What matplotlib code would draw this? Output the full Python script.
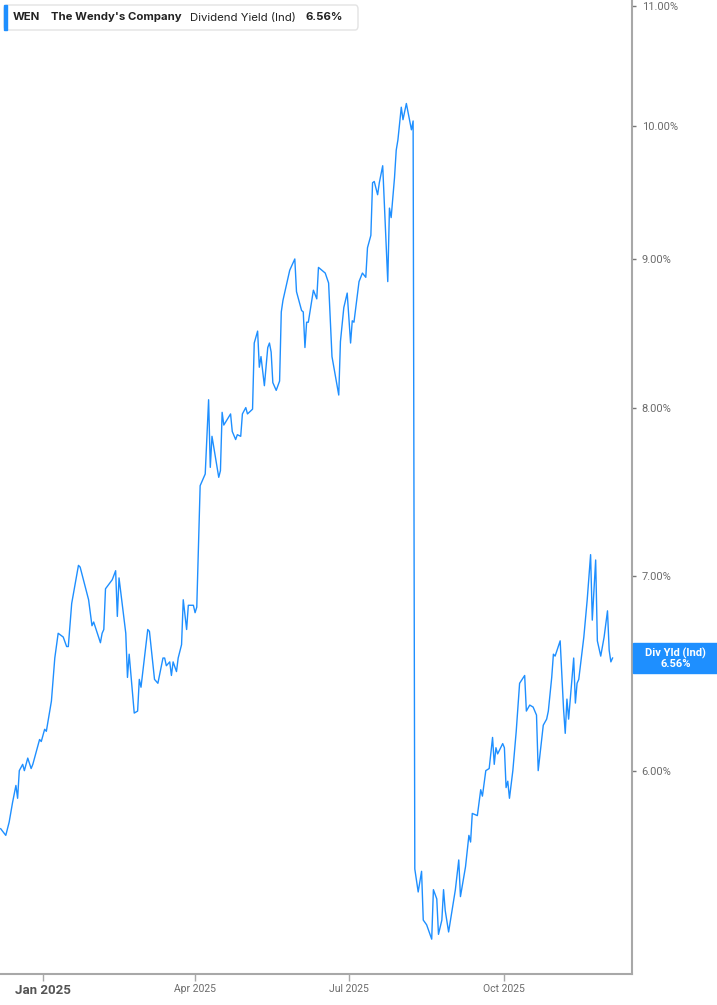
import matplotlib
matplotlib.use("Agg")
import matplotlib.pyplot as plt
import matplotlib.dates as mdates
from matplotlib.patches import FancyBboxPatch, Rectangle
from matplotlib.ticker import FixedLocator, NullLocator
import pandas as pd

# Dividend yield readings (%) taken off the reference chart
dates = [
    "2024-12-07", "2024-12-10", "2024-12-12", "2024-12-14", "2024-12-16", "2024-12-17",
    "2024-12-18", "2024-12-20", "2024-12-21", "2024-12-23", "2024-12-25", "2024-12-26",
    "2024-12-30", "2024-12-31", "2025-01-02", "2025-01-03", "2025-01-06", "2025-01-08",
    "2025-01-10", "2025-01-13", "2025-01-15", "2025-01-16", "2025-01-18", "2025-01-22",
    "2025-01-23", "2025-01-28", "2025-01-30", "2025-01-31", "2025-02-04", "2025-02-05",
    "2025-02-06", "2025-02-07", "2025-02-11", "2025-02-13", "2025-02-14", "2025-02-15",
    "2025-02-19", "2025-02-20", "2025-02-21", "2025-02-24", "2025-02-26", "2025-02-27",
    "2025-02-28", "2025-03-04", "2025-03-05", "2025-03-08", "2025-03-10", "2025-03-13",
    "2025-03-14", "2025-03-15", "2025-03-17", "2025-03-18", "2025-03-19", "2025-03-21",
    "2025-03-22", "2025-03-24", "2025-03-25", "2025-03-27", "2025-03-28", "2025-03-31",
    "2025-04-01", "2025-04-02", "2025-04-04", "2025-04-07", "2025-04-09", "2025-04-10",
    "2025-04-11", "2025-04-15", "2025-04-16", "2025-04-17", "2025-04-18", "2025-04-22",
    "2025-04-23", "2025-04-25", "2025-04-26", "2025-04-28", "2025-04-29", "2025-05-01",
    "2025-05-02", "2025-05-05", "2025-05-06", "2025-05-08", "2025-05-09", "2025-05-10",
    "2025-05-12", "2025-05-14", "2025-05-15", "2025-05-16", "2025-05-17", "2025-05-19",
    "2025-05-21", "2025-05-22", "2025-05-23", "2025-05-27", "2025-05-30", "2025-05-31",
    "2025-06-03", "2025-06-04", "2025-06-05", "2025-06-06", "2025-06-07", "2025-06-10",
    "2025-06-12", "2025-06-13", "2025-06-17", "2025-06-19", "2025-06-21", "2025-06-25",
    "2025-06-26", "2025-06-28", "2025-06-30", "2025-07-02", "2025-07-03", "2025-07-04",
    "2025-07-07", "2025-07-09", "2025-07-11", "2025-07-12", "2025-07-14", "2025-07-15",
    "2025-07-16", "2025-07-18", "2025-07-19", "2025-07-21", "2025-07-24", "2025-07-25",
    "2025-07-26", "2025-07-28", "2025-07-29", "2025-07-30", "2025-08-01", "2025-08-02",
    "2025-08-04", "2025-08-07", "2025-08-08", "2025-08-09", "2025-08-11", "2025-08-13",
    "2025-08-14", "2025-08-16", "2025-08-19", "2025-08-20", "2025-08-22", "2025-08-23",
    "2025-08-25", "2025-08-26", "2025-08-27", "2025-08-29", "2025-09-02", "2025-09-04",
    "2025-09-05", "2025-09-08", "2025-09-10", "2025-09-11", "2025-09-12", "2025-09-15",
    "2025-09-17", "2025-09-18", "2025-09-20", "2025-09-22", "2025-09-24", "2025-09-25",
    "2025-09-26", "2025-09-27", "2025-09-30", "2025-10-01", "2025-10-02", "2025-10-03",
    "2025-10-04", "2025-10-06", "2025-10-08", "2025-10-10", "2025-10-13", "2025-10-14",
    "2025-10-16", "2025-10-18", "2025-10-20", "2025-10-21", "2025-10-24", "2025-10-26",
    "2025-10-27", "2025-10-29", "2025-10-30", "2025-10-31", "2025-11-03", "2025-11-05",
    "2025-11-06", "2025-11-07", "2025-11-08", "2025-11-11", "2025-11-12", "2025-11-13",
    "2025-11-14", "2025-11-17", "2025-11-19", "2025-11-21", "2025-11-22", "2025-11-24",
    "2025-11-25", "2025-11-27", "2025-11-29", "2025-12-01", "2025-12-02", "2025-12-03",
    "2025-12-04",
]

div_yield = [
    5.73, 5.70, 5.76, 5.85, 5.93, 5.87,
    6.00, 6.03, 6.00, 6.06, 6.01, 6.03,
    6.15, 6.14, 6.20, 6.19, 6.34, 6.56,
    6.69, 6.67, 6.62, 6.62, 6.85, 7.06,
    7.05, 6.87, 6.73, 6.75, 6.64, 6.69,
    6.71, 6.93, 6.98, 7.03, 6.78, 6.99,
    6.69, 6.46, 6.58, 6.28, 6.29, 6.45,
    6.41, 6.71, 6.70, 6.45, 6.43, 6.56,
    6.56, 6.52, 6.54, 6.47, 6.54, 6.49,
    6.56, 6.63, 6.87, 6.71, 6.84, 6.84,
    6.80, 6.83, 7.52, 7.59, 8.05, 7.63,
    7.82, 7.57, 7.61, 7.97, 7.89, 7.96,
    7.85, 7.80, 7.83, 7.82, 7.96, 8.00,
    7.96, 7.99, 8.42, 8.50, 8.26, 8.33,
    8.14, 8.39, 8.42, 8.36, 8.16, 8.11,
    8.17, 8.63, 8.71, 8.92, 9.00, 8.77,
    8.64, 8.63, 8.39, 8.56, 8.56, 8.78,
    8.72, 8.94, 8.90, 8.83, 8.33, 8.08,
    8.43, 8.66, 8.76, 8.42, 8.57, 8.56,
    8.84, 8.90, 8.87, 9.08, 9.17, 9.56,
    9.57, 9.47, 9.56, 9.69, 8.84, 9.37,
    9.30, 9.60, 9.81, 9.89, 10.15, 10.05,
    10.18, 9.97, 10.04, 5.55, 5.45, 5.54,
    5.33, 5.31, 5.25, 5.46, 5.42, 5.27,
    5.33, 5.46, 5.37, 5.28, 5.46, 5.59,
    5.43, 5.56, 5.70, 5.67, 5.80, 5.79,
    5.91, 5.88, 6.00, 6.01, 6.16, 6.03,
    6.11, 6.08, 6.13, 6.11, 5.92, 5.95,
    5.87, 6.00, 6.19, 6.43, 6.47, 6.29,
    6.32, 6.31, 6.27, 6.00, 6.22, 6.25,
    6.29, 6.46, 6.58, 6.57, 6.65, 6.30,
    6.18, 6.35, 6.25, 6.56, 6.33, 6.43,
    6.45, 6.67, 6.87, 7.12, 6.76, 7.09,
    6.65, 6.57, 6.67, 6.81, 6.60, 6.54,
    6.56,
]

y_ticks = [6, 7, 8, 9, 10, 11]
x_ticks = ["2025-01-01", "2025-04-01", "2025-07-01", "2025-10-01"]
x_labels = ["Jan 2025", "Apr 2025", "Jul 2025", "Oct 2025"]

ticker = "WEN"
company = "The Wendy's Company"
metric = "Dividend Yield (Ind)"
last_value = div_yield[-1]

LINE_BLUE = "#1e8fff"
AXIS_GRAY = "#a8a8a8"
TEXT_GRAY = "#6b6b6b"

W, H = 717, 1005
fig = plt.figure(figsize=(W / 100, H / 100), dpi=100)
ax = fig.add_axes([0, 1 - 974 / H, 632 / W, 974 / H])

x = pd.to_datetime(dates)
ax.plot(x, div_yield, color=LINE_BLUE, linewidth=1.0)

ax.set_yscale("log")
ax.set_ylim(5.107, 11.05)
ax.set_xlim(pd.Timestamp("2024-12-06 14:00"), pd.Timestamp("2025-12-15 12:00"))

ax.yaxis.tick_right()
ax.yaxis.set_major_locator(FixedLocator(y_ticks))
ax.yaxis.set_minor_locator(NullLocator())
ax.set_yticklabels([f"{v:.2f}%" for v in y_ticks])
ax.tick_params(axis="y", which="major", length=3, width=1, color="#777777",
               labelcolor=TEXT_GRAY, labelsize=8, pad=4)
for lbl in ax.get_yticklabels():
    lbl.set_fontfamily("Roboto")

ax.set_xticks(mdates.date2num(pd.to_datetime(x_ticks)))
ax.set_xticklabels(x_labels)
ax.tick_params(axis="x", length=5, width=1, color=AXIS_GRAY,
               labelcolor=TEXT_GRAY, labelsize=7.5, pad=2)
for i, lbl in enumerate(ax.get_xticklabels()):
    lbl.set_fontfamily("Roboto")
    if i == 0:
        lbl.set_fontsize(9.5)
        lbl.set_fontweight("bold")
        lbl.set_color("#555555")

for side in ["top", "left"]:
    ax.spines[side].set_visible(False)
for side in ["right", "bottom"]:
    ax.spines[side].set_color(AXIS_GRAY)
    ax.spines[side].set_linewidth(1.5)

# last value tag on the right axis
tag_y = 1 - 658 / H
fig.patches.append(Rectangle((633 / W, tag_y - 15 / H), 84 / W, 30 / H,
                             transform=fig.transFigure, color=LINE_BLUE, zorder=5))
fig.text(675.5 / W, tag_y, f"Div Yld (Ind)\n{last_value:.2f}%", ha="center", va="center",
         color="white", fontsize=8, fontweight="bold", family="Roboto",
         linespacing=1.0, zorder=6)

# header box
fig.patches.append(FancyBboxPatch((4 / W, 1 - 30 / H), 354 / W, 25 / H,
                                  boxstyle="round,pad=0,rounding_size=0.004",
                                  transform=fig.transFigure, facecolor="white",
                                  edgecolor="#e3e3e3", linewidth=1, zorder=2))
fig.patches.append(Rectangle((4 / W, 1 - 30 / H), 3 / W, 25 / H,
                             transform=fig.transFigure, color=LINE_BLUE, zorder=3))
hy = 1 - 17.5 / H
hsize = 8.2
fig.text(13 / W, hy, ticker, fontsize=hsize, fontweight="bold", color="#222222",
         va="center", family="Inter", zorder=4)
fig.text(51 / W, hy, company, fontsize=hsize, fontweight="bold", color="#222222",
         va="center", family="Inter", zorder=4)
fig.text(190 / W, hy, metric, fontsize=hsize, color="#222222",
         va="center", family="Inter", zorder=4)
fig.text(306 / W, hy, f"{last_value:.2f}%", fontsize=hsize, fontweight="bold",
         color="#222222", va="center", family="Inter", zorder=4)

fig.savefig("out.png", dpi=100)
